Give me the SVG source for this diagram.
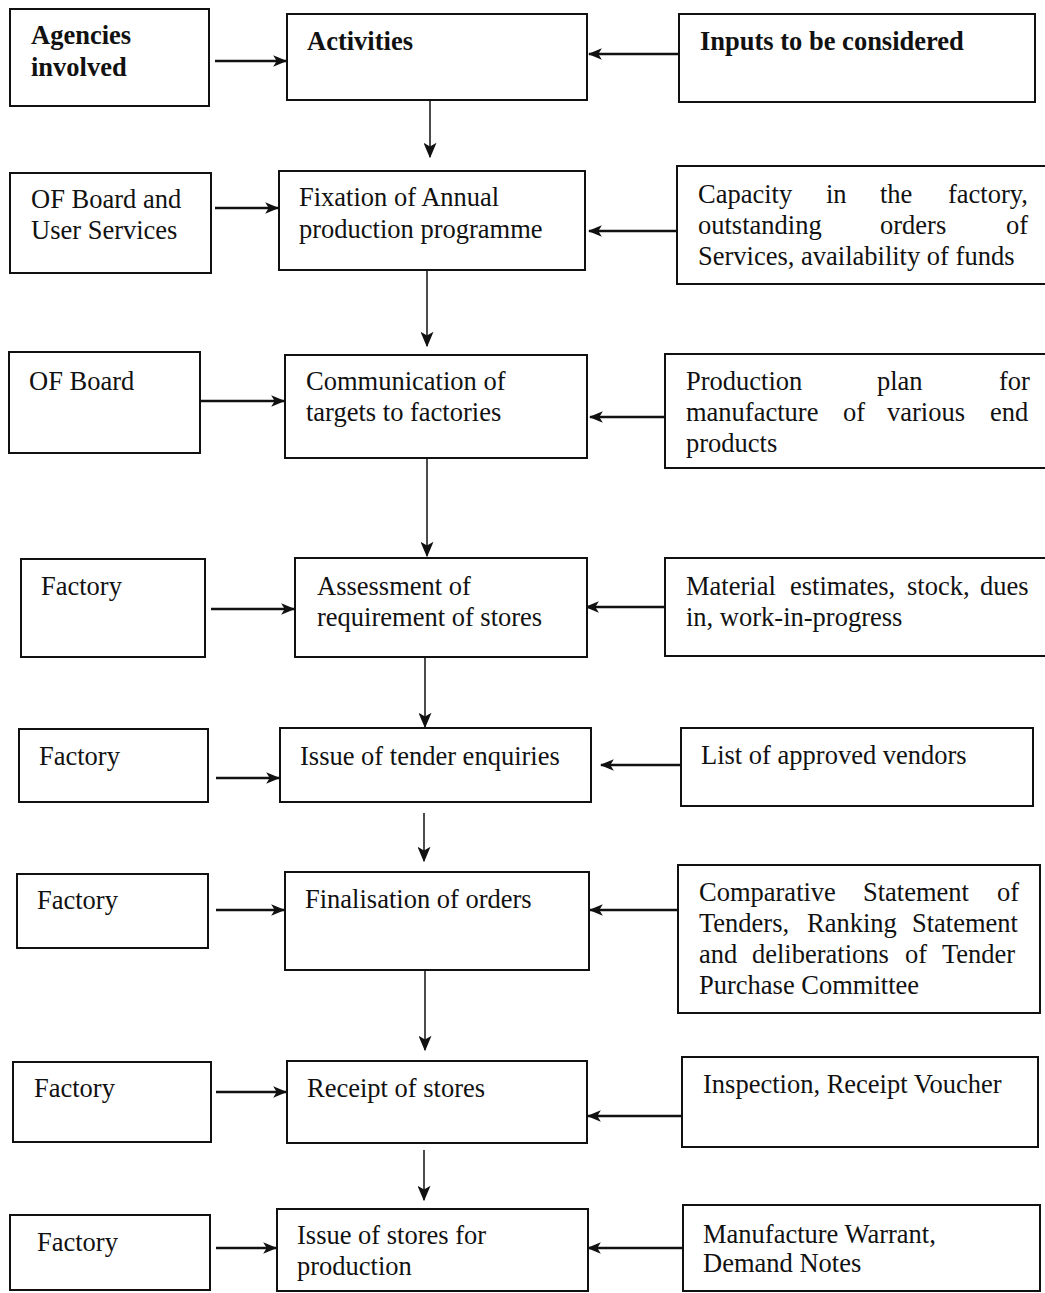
<svg xmlns="http://www.w3.org/2000/svg" width="1045" height="1293" viewBox="0 0 1045 1293">
<style>
rect{fill:#fff;stroke:#111;stroke-width:2}
text{font-family:"Liberation Serif","Times New Roman",serif;font-size:26.5px;fill:#111}
.b{font-weight:bold}
.h{stroke:#111;stroke-width:2.4;fill:none;marker-end:url(#ah)}
.v{stroke:#111;stroke-width:1.5;fill:none;marker-end:url(#av)}
</style>
<defs>
<marker id="ah" viewBox="0 0 12 10" refX="11" refY="5" markerWidth="14" markerHeight="13" markerUnits="userSpaceOnUse" orient="auto"><path d="M0,0 L12,5 L0,10 L3,5 Z" fill="#111"/></marker>
<marker id="av" viewBox="0 0 12 10" refX="11" refY="5" markerWidth="17" markerHeight="13" markerUnits="userSpaceOnUse" orient="auto"><path d="M0,0 L12,5 L0,10 L3,5 Z" fill="#111"/></marker>
</defs>
<rect width="1045" height="1293" style="stroke:none"/>

<g id="connectors">
<line class="h" x1="215" y1="61" x2="286" y2="61"/>
<line class="h" x1="679" y1="54" x2="589" y2="54"/>
<line class="v" x1="430" y1="97" x2="430" y2="157"/>
<line class="h" x1="215" y1="208" x2="278" y2="208"/>
<line class="h" x1="677" y1="231" x2="589" y2="231"/>
<line class="v" x1="427" y1="271" x2="427" y2="346"/>
<line class="h" x1="200" y1="401" x2="284" y2="401"/>
<line class="h" x1="665" y1="417" x2="590" y2="417"/>
<line class="v" x1="427" y1="458" x2="427" y2="556"/>
<line class="h" x1="211" y1="609" x2="294" y2="609"/>
<line class="h" x1="665" y1="607" x2="586" y2="607"/>
<line class="v" x1="425" y1="657" x2="425" y2="727"/>
<line class="h" x1="216" y1="778" x2="279" y2="778"/>
<line class="h" x1="681" y1="765" x2="601" y2="765"/>
<line class="v" x1="424" y1="813" x2="424" y2="861"/>
<line class="h" x1="216" y1="910" x2="284" y2="910"/>
<line class="h" x1="678" y1="910" x2="590" y2="910"/>
<line class="v" x1="425" y1="970" x2="425" y2="1050"/>
<line class="h" x1="216" y1="1092" x2="286" y2="1092"/>
<line class="h" x1="682" y1="1116" x2="588" y2="1116"/>
<line class="v" x1="424" y1="1150" x2="424" y2="1200"/>
<line class="h" x1="216" y1="1248" x2="276" y2="1248"/>
<line class="h" x1="683" y1="1248" x2="588" y2="1248"/>
</g>

<g id="agencies"><rect x="10" y="9" width="199" height="97"/>
<text class="b" x="31" y="44">Agencies</text><text class="b" x="31" y="76">involved</text></g>
<g id="activities"><rect x="287" y="14" width="300" height="86"/>
<text class="b" x="307" y="50">Activities</text></g>
<g id="inputs"><rect x="679" y="14" width="356" height="88"/>
<text class="b" x="700" y="50">Inputs to be considered</text></g>

<g id="ofb-user"><rect x="10" y="173" width="201" height="100"/>
<text x="31" y="208">OF Board and</text><text x="31" y="239">User Services</text></g>
<g id="fixation"><rect x="279" y="171" width="306" height="99"/>
<text x="299" y="206">Fixation of Annual</text><text x="299" y="238">production  programme</text></g>
<g id="capacity"><rect x="677" y="166" width="372" height="118"/>
<text y="203"><tspan x="698">Capacity</tspan><tspan x="826">in</tspan><tspan x="880">the</tspan><tspan x="948">factory,</tspan></text>
<text y="234"><tspan x="698">outstanding</tspan><tspan x="880">orders</tspan><tspan x="1006">of</tspan></text>
<text x="698" y="265">Services, availability of funds</text></g>

<g id="ofb"><rect x="9" y="352" width="191" height="101"/>
<text x="29" y="390">OF Board</text></g>
<g id="communication"><rect x="285" y="355" width="302" height="103"/>
<text x="306" y="390">Communication of</text><text x="306" y="421">targets to factories</text></g>
<g id="prodplan"><rect x="665" y="354" width="384" height="114"/>
<text y="390"><tspan x="686">Production</tspan><tspan x="877">plan</tspan><tspan x="999">for</tspan></text>
<text y="421"><tspan x="686">manufacture</tspan><tspan x="843">of</tspan><tspan x="887">various</tspan><tspan x="990">end</tspan></text>
<text x="686" y="452">products</text></g>

<g id="factory1"><rect x="21" y="559" width="184" height="98"/>
<text x="41" y="595">Factory</text></g>
<g id="assessment"><rect x="295" y="558" width="292" height="99"/>
<text x="317" y="595">Assessment of</text><text x="317" y="626">requirement of stores</text></g>
<g id="material"><rect x="665" y="558" width="384" height="98"/>
<text y="595"><tspan x="686">Material</tspan><tspan x="790">estimates,</tspan><tspan x="907">stock,</tspan><tspan x="980">dues</tspan></text>
<text x="686" y="626">in, work-in-progress</text></g>

<g id="factory2"><rect x="19" y="729" width="189" height="73"/>
<text x="39" y="765">Factory</text></g>
<g id="tender"><rect x="280" y="728" width="311" height="74"/>
<text x="300" y="765">Issue of tender enquiries</text></g>
<g id="vendors"><rect x="681" y="728" width="352" height="78"/>
<text x="701" y="764">List of approved vendors</text></g>

<g id="factory3"><rect x="17" y="874" width="191" height="74"/>
<text x="37" y="909">Factory</text></g>
<g id="finalisation"><rect x="285" y="872" width="304" height="98"/>
<text x="305" y="908">Finalisation of orders</text></g>
<g id="comparative"><rect x="678" y="865" width="362" height="148"/>
<text y="901"><tspan x="699">Comparative</tspan><tspan x="863">Statement</tspan><tspan x="997">of</tspan></text>
<text y="932"><tspan x="699">Tenders,</tspan><tspan x="807">Ranking</tspan><tspan x="912">Statement</tspan></text>
<text y="963"><tspan x="699">and</tspan><tspan x="752">deliberations</tspan><tspan x="905">of</tspan><tspan x="942">Tender</tspan></text>
<text x="699" y="994">Purchase Committee</text></g>

<g id="factory4"><rect x="13" y="1062" width="198" height="80"/>
<text x="34" y="1097">Factory</text></g>
<g id="receipt"><rect x="287" y="1061" width="300" height="82"/>
<text x="307" y="1097">Receipt of stores</text></g>
<g id="inspection"><rect x="682" y="1057" width="356" height="90"/>
<text x="703" y="1093">Inspection, Receipt Voucher</text></g>

<g id="factory5"><rect x="10" y="1215" width="200" height="75"/>
<text x="37" y="1251">Factory</text></g>
<g id="issue-stores"><rect x="277" y="1209" width="311" height="82"/>
<text x="297" y="1244">Issue of stores for</text><text x="297" y="1275">production</text></g>
<g id="warrant"><rect x="683" y="1205" width="357" height="86"/>
<text x="703" y="1243">Manufacture Warrant,</text><text x="703" y="1272">Demand Notes</text></g>
</svg>
